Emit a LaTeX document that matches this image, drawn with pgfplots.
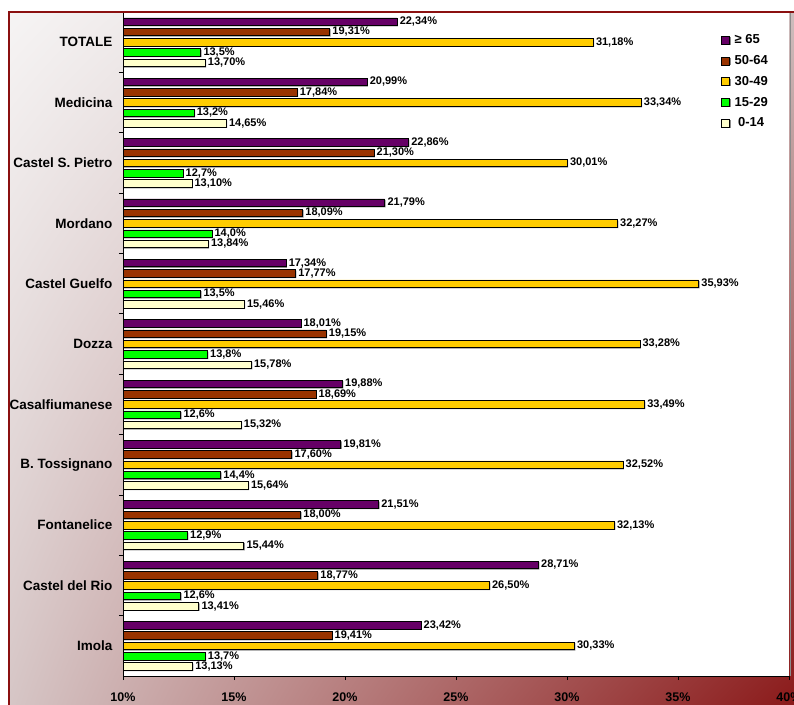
\documentclass[border=0pt]{standalone}
\usepackage{pgfplots}
\pgfplotsset{compat=1.18}
\usepackage{pgfplotstable}
\usetikzlibrary{shadings}
\usepackage{fontspec}
\setmainfont{Liberation Sans}
\definecolor{c65}{HTML}{660066}
\definecolor{c50}{HTML}{993300}
\definecolor{c30}{HTML}{FFCC00}
\definecolor{c15}{HTML}{00FF00}
\definecolor{c0}{HTML}{FFFFCC}
\definecolor{framecol}{HTML}{8B1010}
\definecolor{bgUL}{HTML}{F6F4F4}
\definecolor{bgUR}{HTML}{CDBDBD}
\definecolor{bgLL}{HTML}{D6C6C6}
\definecolor{bgLR}{HTML}{8B1A1A}
\definecolor{shadowcol}{HTML}{8C8C8C}

\pgfplotstableread{
y  a     la    b     lb    c     lc    d     ld    e     le
10 22.34 22,34 19.31 19,31 31.18 31,18 13.5  13,5  13.70 13,70
9  20.99 20,99 17.84 17,84 33.34 33,34 13.2  13,2  14.65 14,65
8  22.86 22,86 21.30 21,30 30.01 30,01 12.7  12,7  13.10 13,10
7  21.79 21,79 18.09 18,09 32.27 32,27 14.0  14,0  13.84 13,84
6  17.34 17,34 17.77 17,77 35.93 35,93 13.5  13,5  15.46 15,46
5  18.01 18,01 19.15 19,15 33.28 33,28 13.8  13,8  15.78 15,78
4  19.88 19,88 18.69 18,69 33.49 33,49 12.6  12,6  15.32 15,32
3  19.81 19,81 17.60 17,60 32.52 32,52 14.4  14,4  15.64 15,64
2  21.51 21,51 18.00 18,00 32.13 32,13 12.9  12,9  15.44 15,44
1  28.71 28,71 18.77 18,77 26.50 26,50 12.6  12,6  13.41 13,41
0  23.42 23,42 19.41 19,41 30.33 30,33 13.7  13,7  13.13 13,13
}\data

\pgfplotsset{
  sh/.style={fill=shadowcol, draw=none, forget plot, xshift=1pt},
  mn/.style={fill=#1, draw=black, line width=0.6pt,
    nodes near coords={\pgfplotspointmeta\%}, point meta=explicit symbolic,
    every node near coord/.append style={font=\bfseries\fontsize{11}{13}\selectfont, text=black, inner xsep=2.5pt, inner ysep=0pt, anchor=west}},
}

\begin{document}
\begin{tikzpicture}
\path[use as bounding box] (0,0) rectangle (794pt,704pt);
\clip (0,0) rectangle (794pt,704pt);
\shade[upper left=bgUL, upper right=bgUR, lower left=bgLL, lower right=bgLR] (8.5pt,0pt) rectangle (794pt,691.5pt);
\begin{axis}[
  at={(123pt,28pt)}, anchor=south west, scale only axis,
  width=666pt, height=664pt,
  xbar, bar width=7.5pt,
  xmin=10, xmax=40, ymin=-0.5, ymax=10.5,
  axis x line*=bottom, axis y line*=left,
  axis line style={-, black, line width=0.8pt},
  axis background/.style={fill=white},
  xtick={10,15,...,40}, xticklabels={10\%,15\%,20\%,25\%,30\%,35\%,40\%},
  tick align=outside, major tick length=4pt, tick style={black, line width=0.8pt},
  xticklabel style={font=\bfseries\fontsize{12.5}{14}\selectfont, yshift=-9pt},
  ytick={0.5,1.5,2.5,3.5,4.5,5.5,6.5,7.5,8.5,9.5}, yticklabels={},
  extra y ticks={0,1,2,3,4,5,6,7,8,9,10},
  extra y tick labels={Imola, Castel del Rio, Fontanelice, B. Tossignano, Casalfiumanese, Dozza, Castel Guelfo, Mordano, Castel S. Pietro, Medicina, TOTALE},
  extra y tick style={major tick length=0pt, yticklabel style={font=\bfseries\fontsize{13.5}{15}\selectfont, xshift=-7pt}},
  legend style={at={(0.898,0.969)}, anchor=north west, draw=none, fill=none,
    font=\bfseries\fontsize{13}{15}\selectfont, row sep=6.2pt, inner sep=0pt},
  legend cell align=left,
  legend image code/.code={\fill[shadowcol, draw=none] (1pt,-4.5pt) rectangle (9pt,3pt); \draw[#1, draw=black, line width=0.6pt] (0pt,-4pt) rectangle (8pt,4pt); \path[draw=none, fill=none] (0pt,0pt) -- (11pt,0pt);},
]
\addplot[sh, bar shift=19.6pt] table[x=a,y=y] {\data};
\addplot[sh, bar shift=9.3pt] table[x=b,y=y] {\data};
\addplot[sh, bar shift=-1pt] table[x=c,y=y] {\data};
\addplot[sh, bar shift=-11.3pt] table[x=d,y=y] {\data};
\addplot[sh, bar shift=-21.6pt] table[x=e,y=y] {\data};
\addplot[mn=c65, bar shift=20.6pt] table[x=a,y=y,meta=la] {\data};
\addplot[mn=c50, bar shift=10.3pt] table[x=b,y=y,meta=lb] {\data};
\addplot[mn=c30, bar shift=0pt] table[x=c,y=y,meta=lc] {\data};
\addplot[mn=c15, bar shift=-10.3pt] table[x=d,y=y,meta=ld] {\data};
\addplot[mn=c0, bar shift=-20.6pt] table[x=e,y=y,meta=le] {\data};
\legend{≥ 65, 50-64, 30-49, 15-29, \ 0-14}
\end{axis}
\draw[shadowcol, line width=1.4pt] (790.3pt,28pt) -- (790.3pt,692pt);
\draw[framecol, line width=1.6pt] (8.8pt,-2pt) -- (8.8pt,691.7pt) -- (800pt,691.7pt);
\end{tikzpicture}
\end{document}
